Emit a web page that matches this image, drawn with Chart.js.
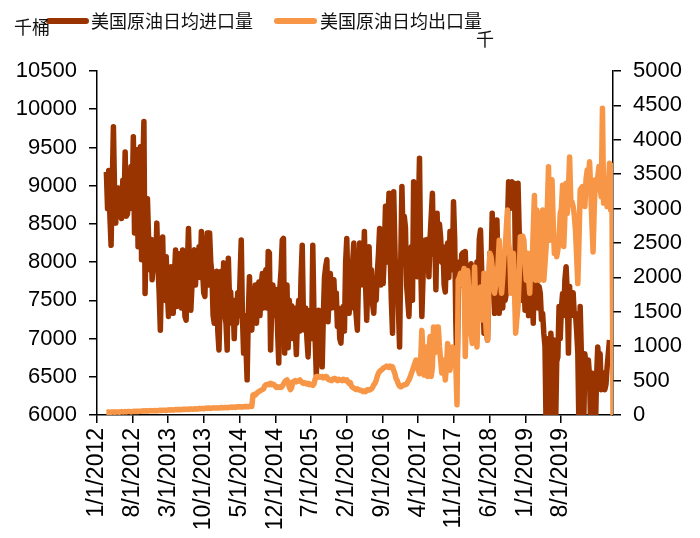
<!DOCTYPE html>
<html>
<head>
<meta charset="utf-8">
<script src="https://cdn.jsdelivr.net/npm/chart.js@4.4.1/dist/chart.umd.min.js"></script>
<style>
  body { margin: 0; background: #fff; }
  #box { width: 700px; height: 538px; position: relative; }
</style>
</head>
<body>
<div id="box"><canvas id="grafico"></canvas></div>
<script>
// primeira semana com dado
const startDate = '2/26/2012';

// importacao (mil barris/dia), semanal
const importData = [
  9180, 8700, 9200, 8600, 8220, 9000, 9770, 8900, 8510, 8900,
  8970, 8600, 8900, 8570, 9070, 8700, 9440, 8600, 8630, 8900,
  8700, 9250, 8800, 9640, 8380, 9000, 9470, 8200, 9000, 9510,
  8030, 9200, 9840, 7590, 8380, 8830, 8300, 7900, 8300, 7770,
  8000, 8290, 7900, 8510, 7940, 7600, 7110, 7800, 8330, 7600,
  7500, 8070, 7600, 7290, 7700, 7940, 7400, 7330, 7800, 8160,
  7420, 7800, 8110, 7500, 7400, 8160, 7700, 7290, 7240, 7900,
  8440, 7900, 7370, 7700, 8100, 8160, 7700, 8100, 7800, 8200,
  7800, 8400, 7900, 7600, 7550, 8100, 8380, 7700, 8380, 8000,
  7850, 7300, 7200, 7700, 7880, 7100, 6850, 7500, 7880, 7400,
  7990, 7300, 7200, 6850, 8050, 7500, 7610, 7200, 7500, 7000,
  7500, 7200, 7600, 7300, 7800, 8290, 7300, 6810, 7300, 6900,
  6460, 7300, 7810, 7200, 7110, 7500, 7420, 7700, 7200, 7600,
  7740, 7300, 7700, 7850, 7400, 7800, 7900, 7400, 8140, 8120,
  6850, 7400, 7700, 7300, 7550, 7640, 7100, 6680, 7680, 7900,
  8290, 8310, 6810, 7500, 7700, 6880, 7500, 7200, 7430, 7000,
  7400, 7110, 6790, 7300, 7500, 7100, 7800, 8220, 7300, 7110,
  7400, 7000, 6760, 7300, 7370, 7000, 8220, 7300, 7000, 6520,
  7000, 7370, 6800, 7100, 6630, 7300, 7800, 7940, 8030, 7220,
  7600, 7850, 7400, 7600, 7770, 7400, 7600, 7160, 7400, 7000,
  6940, 7300, 7420, 7100, 8000, 8310, 7600, 7330, 7700, 7400,
  8000, 8250, 7500, 7300, 7110, 7800, 8250, 7700, 8100, 7900,
  8400, 7700, 7240, 7800, 8200, 7600, 7900, 7450, 7330, 7700,
  7500, 7850, 8100, 8440, 7700, 8000, 7720, 8100, 8730, 8000,
  8500, 8900, 8100, 7500, 7070, 8920, 8200, 7550, 8000, 7400,
  6890, 8000, 8990, 8300, 8600, 8460, 7700, 7500, 7290, 7900,
  8200, 7500, 9050, 8300, 8100, 7810, 8600, 9360, 8000, 7290,
  7800, 8200, 8290, 7900, 8300, 7810, 8300, 8600, 8900, 8100,
  8300, 7640, 8640, 8100, 8500, 8330, 8000, 8200, 7700, 7610,
  8100, 8250, 7800, 8400, 8000, 7900, 8790, 8300, 7200, 6500,
  7500, 8000, 7700, 8100, 8120, 7770, 8140, 7700, 7900, 7460,
  7800, 7980, 7600, 7900, 7500, 7680, 8000, 7700, 8300, 8420,
  7900, 7680, 7070, 7400, 7100, 6980, 7600, 8120, 7900, 8640,
  7900, 7330, 7800, 8550, 7900, 7330, 7700, 7850, 7400, 7900,
  7500, 7590, 8500, 9050, 8700, 9000, 9050, 8800, 9030, 7680,
  8500, 9030, 8400, 8300, 7980, 7500, 7800, 7370, 7700, 7590,
  7300, 7650, 7330, 7600, 7200, 7900, 7500, 7770, 7400, 7680,
  7590, 7250, 7330, 7070, 6900, 5800, 6980, 7000, 5800, 7070,
  6760, 6900, 6980, 5800, 6700, 6760, 7420, 7000, 7400, 7590,
  7300, 7770, 7940, 7590, 6810, 7680, 7300, 7330, 7600, 7300,
  7330, 7100, 6810, 5800, 7420, 6810, 6500, 5800, 6800, 6630,
  6370, 6720, 6500, 5800, 6550, 6330, 6400, 5800, 6500, 6890,
  6680, 6800, 6330, 6500, 6550, 6330, 6400, 6630, 6800, 6980
];

// exportacao (mil barris/dia), semanal
const exportData = [
  40, 40, 45, 40, 40, 45, 45, 40, 45, 45,
  45, 40, 45, 50, 45, 45, 50, 45, 50, 50,
  50, 45, 50, 50, 55, 50, 55, 50, 55, 55,
  55, 60, 55, 60, 60, 55, 60, 60, 65, 60,
  60, 65, 65, 60, 65, 65, 70, 65, 70, 70,
  70, 65, 70, 75, 70, 75, 75, 70, 75, 80,
  75, 80, 80, 75, 80, 80, 85, 80, 85, 85,
  80, 85, 90, 85, 85, 90, 90, 85, 90, 95,
  90, 95, 95, 90, 95, 100, 95, 100, 100, 95,
  100, 100, 105, 100, 100, 105, 100, 105, 110, 105,
  105, 110, 110, 105, 110, 110, 115, 110, 115, 115,
  110, 115, 120, 115, 120, 120, 115, 120, 125, 120,
  125, 120, 125, 130, 125, 290, 300, 290, 310, 330,
  340, 350, 360, 370, 380, 420, 440, 440, 450, 440,
  460, 440, 450, 440, 420, 400, 410, 400, 410, 400,
  420, 450, 480, 500, 510, 480, 400, 370, 400, 480,
  490, 500, 480, 490, 500, 510, 490, 470, 460, 470,
  460, 450, 460, 440, 450, 440, 430, 450, 520, 560,
  560, 550, 560, 550, 560, 540, 550, 560, 555, 520,
  510, 510, 500, 520, 530, 530, 510, 500, 520, 510,
  510, 500, 520, 510, 500, 510, 480, 460, 470, 420,
  400, 390, 380, 370, 380, 370, 360, 360, 350, 340,
  350, 340, 360, 370, 360, 370, 380, 400, 440, 460,
  500, 560, 610, 630, 650, 660, 680, 690, 700, 710,
  700, 690, 710, 700, 700, 650, 600, 530, 500, 450,
  420, 410, 420, 430, 440, 440, 450, 480, 510, 550,
  600, 650, 700, 750, 800, 750, 650, 600, 800, 1230,
  900, 580, 700, 990, 560, 900, 1140, 560, 700, 1280,
  900, 1100, 1280, 1280, 1000, 800, 610, 800, 700, 510,
  700, 1040, 900, 650, 800, 990, 940, 850, 700, 150,
  1960, 2000, 2060, 1900, 2000, 2130, 850, 1500, 2100, 1800,
  1480, 1200, 1040, 1600, 2150, 1480, 990, 1500, 1820, 1860,
  1500, 1380, 2060, 1480, 1200, 1090, 1800, 2350, 2300, 2150,
  1900, 1770, 1900, 1960, 2200, 2540, 2000, 1770, 2000, 2300,
  2400, 2700, 2980, 2500, 2350, 1770, 2100, 2350, 1800, 1190,
  1400, 1570, 2000, 2590, 2560, 2600, 2540, 2200, 1960, 2350,
  2000, 1770, 2350, 2160, 2700, 3190, 1960, 2980, 2500, 1960,
  2930, 2600, 2980, 1960, 2200, 2450, 3000, 3610, 2540, 3000,
  3420, 2800, 2350, 2500, 2300, 2400, 2540, 2930, 3000, 3340,
  2450, 2900, 3370, 2930, 3300, 3750, 3120, 3100, 3030, 2900,
  2690, 2300, 1910, 2540, 3270, 3300, 3320, 3100, 3030, 3420,
  3560, 3400, 3680, 3270, 2800, 2370, 3000, 3420, 3300, 3460,
  3610, 3300, 3170, 4460, 3080, 3200, 3420, 3030, 3300, 3660,
  2980, 3630, 0
];

const tickLabels = ['1/1/2012', '8/1/2012', '3/1/2013', '10/1/2013', '5/1/2014', '12/1/2014',
  '7/1/2015', '2/1/2016', '9/1/2016', '4/1/2017', '11/1/2017', '6/1/2018', '1/1/2019', '8/1/2019'];

const nomeImport = '美国原油日均进口量';
const nomeExport = '美国原油日均出口量';
const corImport = '#993300';
const corExport = '#F79646';

// dias desde 1/1/2012
function dia(s) {
  const p = s.split('/');
  return (Date.UTC(+p[2], +p[0] - 1, +p[1]) - Date.UTC(2012, 0, 1)) / 86400000;
}

const dia0 = dia(startDate);
const pontos = (arr) => arr.map((v, i) => ({ x: dia0 + 7 * i, y: v }));

// legenda e titulos dos eixos desenhados a mao
const extras = {
  id: 'extras',
  afterDraw(chart) {
    const ctx = chart.ctx;
    ctx.save();
    ctx.lineCap = 'round';
    ctx.lineWidth = 6;
    ctx.strokeStyle = corImport;
    ctx.beginPath(); ctx.moveTo(49, 21); ctx.lineTo(86, 21); ctx.stroke();
    ctx.strokeStyle = corExport;
    ctx.beginPath(); ctx.moveTo(277, 21); ctx.lineTo(314, 21); ctx.stroke();
    ctx.fillStyle = '#111';
    ctx.font = '18px "Noto Sans CJK SC"';
    ctx.textBaseline = 'middle';
    ctx.fillText(nomeImport, 91, 21);
    ctx.fillText(nomeExport, 320, 21);
    ctx.fillText('千桶', 14, 27);
    ctx.fillText('千', 476, 39);
    ctx.restore();
  }
};

const eixoY = (pos, min, max, largura) => ({
  type: 'linear',
  position: pos,
  min: min,
  max: max,
  grid: { drawOnChartArea: false, drawTicks: true, tickLength: 8, color: '#000', lineWidth: 1.5 },
  border: { display: true, color: '#000', width: 1.5 },
  ticks: {
    stepSize: 500,
    padding: 12,
    color: '#000',
    font: { family: 'Liberation Sans', size: 22 },
    callback: (v) => String(v)
  },
  afterFit(scale) { scale.width = largura; }
});

new Chart(document.getElementById('grafico'), {
  type: 'line',
  data: {
    datasets: [
      {
        label: nomeImport,
        data: pontos(importData),
        borderColor: corImport,
        backgroundColor: corImport,
        borderWidth: 5.5,
        pointRadius: 0,
        borderJoinStyle: 'round',
        yAxisID: 'y',
        order: 2
      },
      {
        label: nomeExport,
        data: pontos(exportData),
        borderColor: corExport,
        backgroundColor: corExport,
        borderWidth: 5.5,
        pointRadius: 0,
        borderJoinStyle: 'round',
        yAxisID: 'y1',
        order: 1
      }
    ]
  },
  options: {
    responsive: true,
    maintainAspectRatio: false,
    animation: false,
    layout: { padding: { top: 71, left: 0, right: 0, bottom: 0 } },
    plugins: {
      legend: { display: false },
      tooltip: { enabled: false }
    },
    scales: {
      x: {
        type: 'linear',
        min: 0,
        max: 3080,
        grid: { drawOnChartArea: false, drawTicks: true, tickLength: 8, color: '#000', lineWidth: 1.5 },
        border: { display: true, color: '#000', width: 1.5 },
        afterBuildTicks(scale) {
          scale.ticks = tickLabels.map(t => ({ value: dia(t) }));
        },
        ticks: {
          autoSkip: false,
          maxRotation: 90,
          minRotation: 90,
          padding: 5,
          color: '#000',
          font: { family: 'Liberation Sans', size: 23 },
          callback: (v, i) => tickLabels[i]
        },
        afterFit(scale) { scale.height = 123; }
      },
      y: eixoY('left', 6000, 10500, 97),
      y1: eixoY('right', 0, 5000, 87)
    }
  },
  plugins: [extras]
});
</script>
</body>
</html>
